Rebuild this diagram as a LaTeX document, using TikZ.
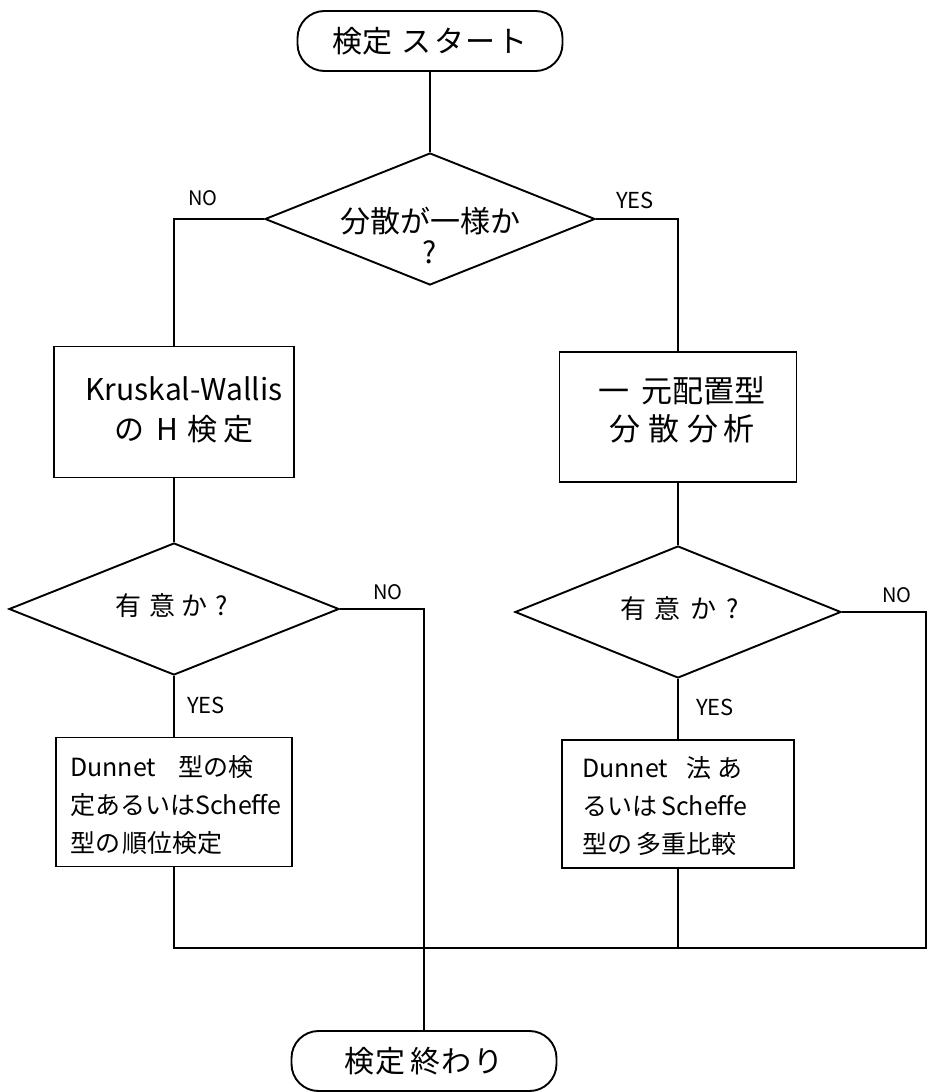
\documentclass[tikz,border=0pt]{standalone}
\usepackage{fontspec}
\setmainfont{Noto Sans CJK JP}
\usetikzlibrary{shapes.geometric}
\begin{document}
\begin{tikzpicture}[x=1pt,y=-1pt,
  ln/.style={line width=1.9pt},
  term/.style={draw, line width=1.9pt, rounded corners=27pt, minimum width=265pt, minimum height=60pt, inner sep=0pt, font=\fontsize{30}{32}\selectfont},
  dia/.style={draw, diamond, line width=1.9pt, inner sep=0pt},
  boxn/.style={draw, rectangle, line width=1.9pt, inner sep=0pt},
  txt/.style={inner sep=0pt, align=center},
  lab/.style={inner sep=0pt, font=\fontsize{20}{20}\selectfont},
  labb/.style={inner sep=0pt, font=\fontsize{22}{22}\selectfont},
]
\useasboundingbox (0,0) rectangle (931,1092);
% terminals
\node[term] (start) at (430,41) {検定\hspace{10pt}ス\hspace{2pt}タ\hspace{2pt}ー\hspace{2pt}ト};
\node[term] (end) at (424,1061) {検\hspace{2pt}定\hspace{4pt}終\hspace{2pt}わ\hspace{2pt}り};
% decisions
\node[dia, minimum width=330pt, minimum height=132pt] (d1) at (430,219) {};
\node[txt, font=\fontsize{30}{31}\selectfont] (d1t) at (430,236) {分散が一様か\\?};
\node[dia, minimum width=330pt, minimum height=132pt] (d2l) at (174,609) {};
\node[txt, font=\fontsize{26}{28}\selectfont] (d2lt) at (172,606) {有\hspace{8pt}意\hspace{6pt}か\hspace{8pt}?};
\node[dia, minimum width=326pt, minimum height=132pt] (d2r) at (678,612) {};
\node[txt, font=\fontsize{26}{28}\selectfont] (d2rt) at (680,609) {有\hspace{8pt}意\hspace{10pt}か\hspace{10pt}?};
% process boxes
\node[boxn, minimum width=240pt, minimum height=131pt] (k) at (174,412) {};
\node[txt, font=\fontsize{30}{40}\selectfont] (kt) at (184,410) {Kruskal-Wallis\\の\hspace{12pt}H\hspace{10pt}検\hspace{6pt}定};
\node[boxn, minimum width=237pt, minimum height=130pt] (a) at (678,417) {};
\node[txt, font=\fontsize{31}{38}\selectfont] (at) at (682,410) {一\hspace{12pt}元配置型\\分\hspace{8pt}散\hspace{8pt}分\hspace{6pt}析};
\node[boxn, minimum width=236pt, minimum height=129pt] (D1) at (174,802) {};
\node[txt, align=left, anchor=west, font=\fontsize{25}{38}\selectfont] (D1t) at (70,805) {Dunnet\hspace{22pt}型の検\\定あるいはScheffe\\型の\hspace{2pt}順位検定};
\node[boxn, minimum width=232pt, minimum height=128pt] (D2) at (678,804) {};
\node[txt, align=left, anchor=west, font=\fontsize{25}{38}\selectfont] (D2t) at (582,806) {Dunnet\hspace{18pt}法\hspace{6pt}あ\\るいは\hspace{4pt}Scheffe\\型の\hspace{4pt}多重比較};
% labels
\node[lab] (no1) at (203,198) {NO};
\node[labb] (yes1) at (635,200) {YES};
\node[lab] (no2) at (388,592) {NO};
\node[labb] (yes2) at (206,705) {YES};
\node[lab] (no3) at (897,595) {NO};
\node[labb] (yes3) at (715,707) {YES};
% junction points
\coordinate (rn) at (926,612);
\coordinate (br) at (926,948);
\coordinate (bl) at (174,948);
% connectors
\draw[ln] (start) -- (d1);
\draw[ln] (d1.west) -| (k.north);
\draw[ln] (d1.east) -| (a.north);
\draw[ln] (k) -- (d2l);
\draw[ln] (a) -- (d2r);
\draw[ln] (d2l) -- (D1);
\draw[ln] (d2r) -- (D2);
\draw[ln] (d2l.east) -| (end.north);
\draw[ln] (d2r.east) -- (rn) -- (br) -- (bl) -- (D1.south);
\draw[ln] (D2.south) -- (D2.south |- bl);
\end{tikzpicture}
\end{document}
